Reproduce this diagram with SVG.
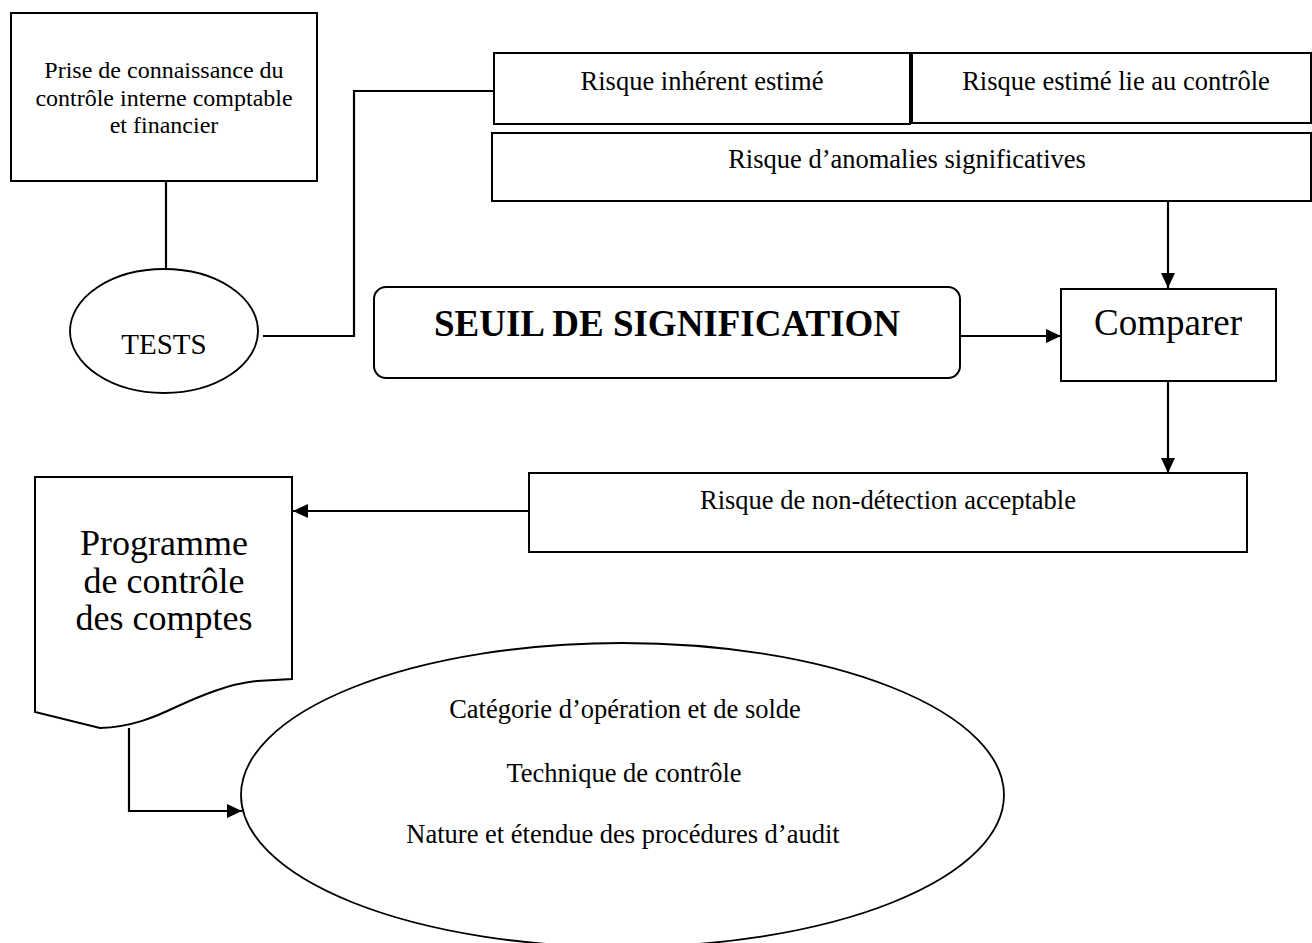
<svg xmlns="http://www.w3.org/2000/svg" width="1312" height="943" viewBox="0 0 1312 943">
<style>
  .box { fill: #ffffff; stroke: #000000; stroke-width: 2; }
  .ell { fill: #ffffff; stroke: #000000; stroke-width: 1.8; }
  .t { font-family: "Liberation Serif", "Times New Roman", serif; fill: #000000; text-anchor: middle; }
  .conn { fill: none; stroke: #000000; stroke-width: 2.2; }
</style>
<defs>
  <marker id="arrow" markerUnits="userSpaceOnUse" markerWidth="15" markerHeight="14" refX="15" refY="7" orient="auto">
    <path d="M0,0 L15,7 L0,14 Z" fill="#000000"/>
  </marker>
</defs>
<rect width="1312" height="943" fill="#ffffff"/>

<g id="connectors">
  <path class="conn" d="M166,181 V269"/>
  <path class="conn" d="M263,336 H354 V91 H493"/>
  <path class="conn" d="M1168,201 V288" marker-end="url(#arrow)"/>
  <path class="conn" d="M960,336 H1061" marker-end="url(#arrow)"/>
  <path class="conn" d="M1168,381 V473" marker-end="url(#arrow)"/>
  <path class="conn" d="M529,511 H293" marker-end="url(#arrow)"/>
  <path class="conn" d="M129,728 V811 H242" marker-end="url(#arrow)"/>
</g>

<g id="node-prise">
  <rect class="box" x="11" y="13" width="306" height="168"/>
  <text class="t" font-size="24" x="164" y="78">Prise de connaissance du</text>
  <text class="t" font-size="24" x="164" y="106">contrôle interne comptable</text>
  <text class="t" font-size="24" x="164" y="133">et financier</text>
</g>

<g id="node-tests">
  <ellipse class="ell" cx="164" cy="331" rx="94" ry="62"/>
  <text class="t" font-size="29" x="164" y="354">TESTS</text>
</g>

<g id="node-inherent">
  <rect class="box" x="494" y="53" width="416" height="71"/>
  <text class="t" font-size="26.5" x="702" y="90">Risque inhérent estimé</text>
</g>

<g id="node-controle">
  <rect class="box" x="912" y="53" width="399" height="70"/>
  <text class="t" font-size="26.5" x="1116" y="90">Risque estimé lie au contrôle</text>
</g>

<g id="node-anomalies">
  <rect class="box" x="492" y="133" width="819" height="68"/>
  <text class="t" font-size="26.5" x="907" y="168">Risque d’anomalies significatives</text>
</g>

<g id="node-seuil">
  <rect class="box" x="374" y="287" width="586" height="91" rx="12" ry="12"/>
  <text class="t" font-size="37" font-weight="bold" x="667" y="336">SEUIL DE SIGNIFICATION</text>
</g>

<g id="node-comparer">
  <rect class="box" x="1061" y="289" width="215" height="92"/>
  <text class="t" font-size="37" x="1168" y="335">Comparer</text>
</g>

<g id="node-nondetection">
  <rect class="box" x="529" y="473" width="718" height="79"/>
  <text class="t" font-size="26.5" x="888" y="509">Risque de non-détection acceptable</text>
</g>

<g id="node-programme">
  <path class="box" d="M35,477 H292 V679 L257,681 C228,684 200,696 176,707 C155,717 132,727 100,728 L35,712 Z"/>
  <text class="t" font-size="36" x="164" y="555">Programme</text>
  <text class="t" font-size="36" x="164" y="593">de contrôle</text>
  <text class="t" font-size="36" x="164" y="630">des comptes</text>
</g>

<g id="node-procedures">
  <ellipse class="ell" cx="622.5" cy="795" rx="381.5" ry="152"/>
  <text class="t" font-size="26.5" x="625" y="718">Catégorie d’opération et de solde</text>
  <text class="t" font-size="26.5" x="624" y="782">Technique de contrôle</text>
  <text class="t" font-size="26.5" x="623" y="843">Nature et étendue des procédures d’audit</text>
</g>
</svg>
